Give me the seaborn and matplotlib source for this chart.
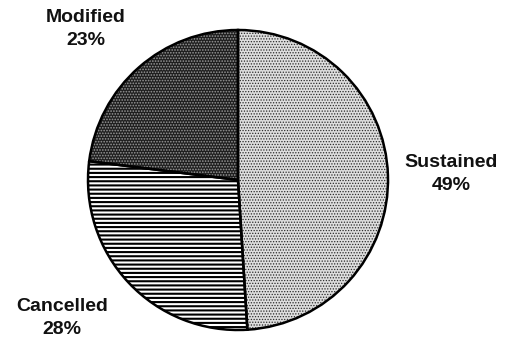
import matplotlib
matplotlib.use("Agg")
import matplotlib.pyplot as plt
import seaborn as sns

# Outcome shares
categories = ["Sustained", "Cancelled", "Modified"]
shares = [49, 28, 23]
label_text = ["Sustained\n49%", "Cancelled\n28%", "Modified\n23%"]

sns.set_theme(style="white")
plt.rcParams["font.family"] = ["Liberation Sans", "DejaVu Sans"]

fig = plt.figure(figsize=(5.21, 3.48), dpi=100)
ax = fig.add_axes([0, 0, 1, 1])

# pixel-based frame: 150 px per data unit, pie centred at (238, 180)
cx, cy, r = 238.0, 180.0, 150.0
pie_kw = dict(startangle=90, counterclock=False, radius=1.0, center=(0, 0),
              frame=True)


def overlay(index, hatch, color, width):
    """Add a hatch layer over one slice with its own hatch colour/width."""
    plt.rcParams["hatch.linewidth"] = width
    before = len(ax.patches)
    ax.pie(shares, colors=["none"] * len(shares),
           wedgeprops=dict(linewidth=0), **pie_kw)
    layer = ax.patches[before:]
    for k, w in enumerate(layer):
        if k == index:
            w.set_edgecolor(color)
            w.set_hatch(hatch)
            w.set_linewidth(0)
        else:
            w.set_visible(False)


# base slices: face tones
faces = ["#dedede", "#ffffff", "#1e1e1e"]
ax.pie(shares, colors=faces, wedgeprops=dict(linewidth=0), **pie_kw)

# textures
overlay(0, "......", "#2a2a2a", 0.6)   # Sustained: fine dark stipple
overlay(2, "......", "#9a9a9a", 0.8)   # Modified: light specks on dark
overlay(1, "----", "#000000", 1.5)     # Cancelled: horizontal rules

# slice outlines on top
ax.pie(shares, colors=["none"] * len(shares),
       wedgeprops=dict(linewidth=1.8, edgecolor="black"), **pie_kw)

ax.set_xlim(-cx / r, (521 - cx) / r)
ax.set_ylim((cy - 348) / r, cy / r)
ax.set_aspect("auto")
ax.axis("off")

# label anchor points (pixel coordinates of each text block centre)
label_px = [(451, 174), (62, 318), (86, 29)]
for txt, (px, py) in zip(label_text, label_px):
    ax.text((px - cx) / r, (cy - py) / r, txt, ha="center", va="center",
            fontsize=14, fontweight="bold", linespacing=1.5, color="#111111")

fig.savefig("out.png", dpi=100)
